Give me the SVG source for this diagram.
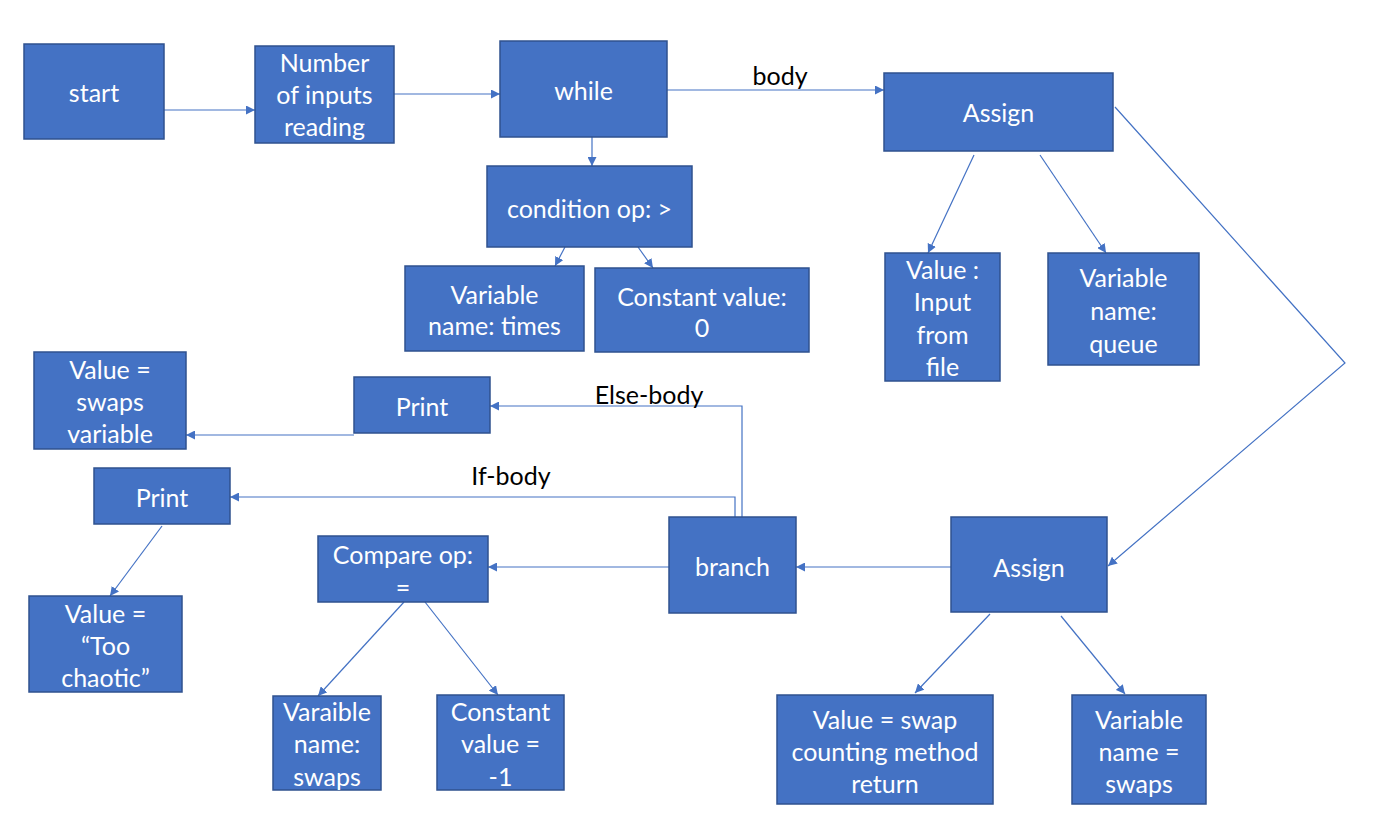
<svg xmlns="http://www.w3.org/2000/svg" width="1396" height="817" viewBox="0 0 1396 817">
<style>
.n rect{fill:#4472C4;stroke:#2F528F;stroke-width:1.5}
.n text{fill:#fff;font-family:Lato,"Open Sans",sans-serif;font-size:25px;text-anchor:middle;dominant-baseline:central}
.c path{fill:none;stroke:#4472C4;stroke-width:1.2}
.lbl{fill:#000;font-family:Lato,"Open Sans",sans-serif;font-size:25px;text-anchor:middle;dominant-baseline:central}
</style>
<defs>
<marker id="ah" viewBox="0 0 10 10" refX="10" refY="5" markerWidth="9" markerHeight="9" markerUnits="userSpaceOnUse" orient="auto">
<path d="M0,0 L10,5 L0,10 z" fill="#4472C4"/>
</marker>
</defs>
<rect width="1396" height="817" fill="#fff"/>
<g class="c" id="connectors">
<path d="M164,110 H255" marker-end="url(#ah)"/>
<path d="M394,94 H500" marker-end="url(#ah)"/>
<path d="M667,90 H884" marker-end="url(#ah)"/>
<path d="M592,137 V166" marker-end="url(#ah)"/>
<path d="M565,247 L555,266" marker-end="url(#ah)"/>
<path d="M638,247 L653,268" marker-end="url(#ah)"/>
<path d="M974,155 L928,253" marker-end="url(#ah)"/>
<path d="M1040,155 L1106,253" marker-end="url(#ah)"/>
<path d="M1115,107 L1345,363 L1108,566" marker-end="url(#ah)"/>
<path d="M951,567 H796" marker-end="url(#ah)"/>
<path d="M669,567 H488" marker-end="url(#ah)"/>
<path d="M742,517 V406 H490" marker-end="url(#ah)"/>
<path d="M735,517 V497 H230" marker-end="url(#ah)"/>
<path d="M354,435 H186" marker-end="url(#ah)"/>
<path d="M162,526 L110,596" marker-end="url(#ah)"/>
<path d="M404,602 L318,696" marker-end="url(#ah)"/>
<path d="M425,602 L498,695" marker-end="url(#ah)"/>
<path d="M990,614 L915,693" marker-end="url(#ah)"/>
<path d="M1061,616 L1125,694" marker-end="url(#ah)"/>
</g>
<text class="lbl" x="780" y="75">body</text>
<text class="lbl" x="649" y="394">Else-body</text>
<text class="lbl" x="511" y="475">If-body</text>
<g class="n" id="start"><rect x="24" y="44" width="140" height="95"/><text x="94" y="92">start</text></g>
<g class="n" id="numinputs"><rect x="255" y="46" width="139" height="97"/><text x="324.5" y="62">Number</text><text x="324.5" y="94">of inputs</text><text x="324.5" y="126">reading</text></g>
<g class="n" id="while"><rect x="500" y="41" width="167" height="96"/><text x="583.5" y="90">while</text></g>
<g class="n" id="condition"><rect x="487" y="166" width="205" height="81"/><text x="589.5" y="208">condition op: &gt;</text></g>
<g class="n" id="vartimes"><rect x="405" y="266" width="179" height="85"/><text x="494.5" y="294">Variable</text><text x="494.5" y="325">name: times</text></g>
<g class="n" id="const0"><rect x="595" y="268" width="214" height="84"/><text x="702" y="296">Constant value:</text><text x="702" y="327">0</text></g>
<g class="n" id="assign1"><rect x="884" y="73" width="229" height="78"/><text x="998.5" y="112">Assign</text></g>
<g class="n" id="valinput"><rect x="885" y="253" width="115" height="128"/><text x="942.5" y="269">Value :</text><text x="942.5" y="301">Input</text><text x="942.5" y="334">from</text><text x="942.5" y="366">file</text></g>
<g class="n" id="varqueue"><rect x="1048" y="253" width="151" height="112"/><text x="1123.5" y="277">Variable</text><text x="1123.5" y="310">name:</text><text x="1123.5" y="343">queue</text></g>
<g class="n" id="valswapsvar"><rect x="34" y="352" width="152" height="97"/><text x="110" y="369">Value =</text><text x="110" y="401">swaps</text><text x="110" y="433">variable</text></g>
<g class="n" id="print1"><rect x="354" y="377" width="136" height="56"/><text x="422" y="406">Print</text></g>
<g class="n" id="print2"><rect x="94" y="468" width="136" height="56"/><text x="162" y="497">Print</text></g>
<g class="n" id="branch"><rect x="669" y="517" width="127" height="96"/><text x="732.5" y="566">branch</text></g>
<g class="n" id="compare"><rect x="318" y="536" width="170" height="66"/><text x="403" y="554">Compare op:</text><text x="403" y="587">=</text></g>
<g class="n" id="toochaotic"><rect x="29" y="596" width="153" height="96"/><text x="105.5" y="613">Value =</text><text x="105.5" y="645">“Too</text><text x="105.5" y="677">chaotic”</text></g>
<g class="n" id="varswaps1"><rect x="273" y="696" width="108" height="94"/><text x="327" y="711">Varaible</text><text x="327" y="743">name:</text><text x="327" y="776">swaps</text></g>
<g class="n" id="constm1"><rect x="437" y="695" width="127" height="95"/><text x="500.5" y="711">Constant</text><text x="500.5" y="743">value =</text><text x="500.5" y="776">-1</text></g>
<g class="n" id="assign2"><rect x="951" y="517" width="156" height="95"/><text x="1029" y="567">Assign</text></g>
<g class="n" id="valswap"><rect x="777" y="695" width="216" height="109"/><text x="885" y="719">Value = swap</text><text x="885" y="751">counting method</text><text x="885" y="783">return</text></g>
<g class="n" id="varswaps2"><rect x="1072" y="695" width="134" height="109"/><text x="1139" y="719">Variable</text><text x="1139" y="751">name =</text><text x="1139" y="783">swaps</text></g>
</svg>
